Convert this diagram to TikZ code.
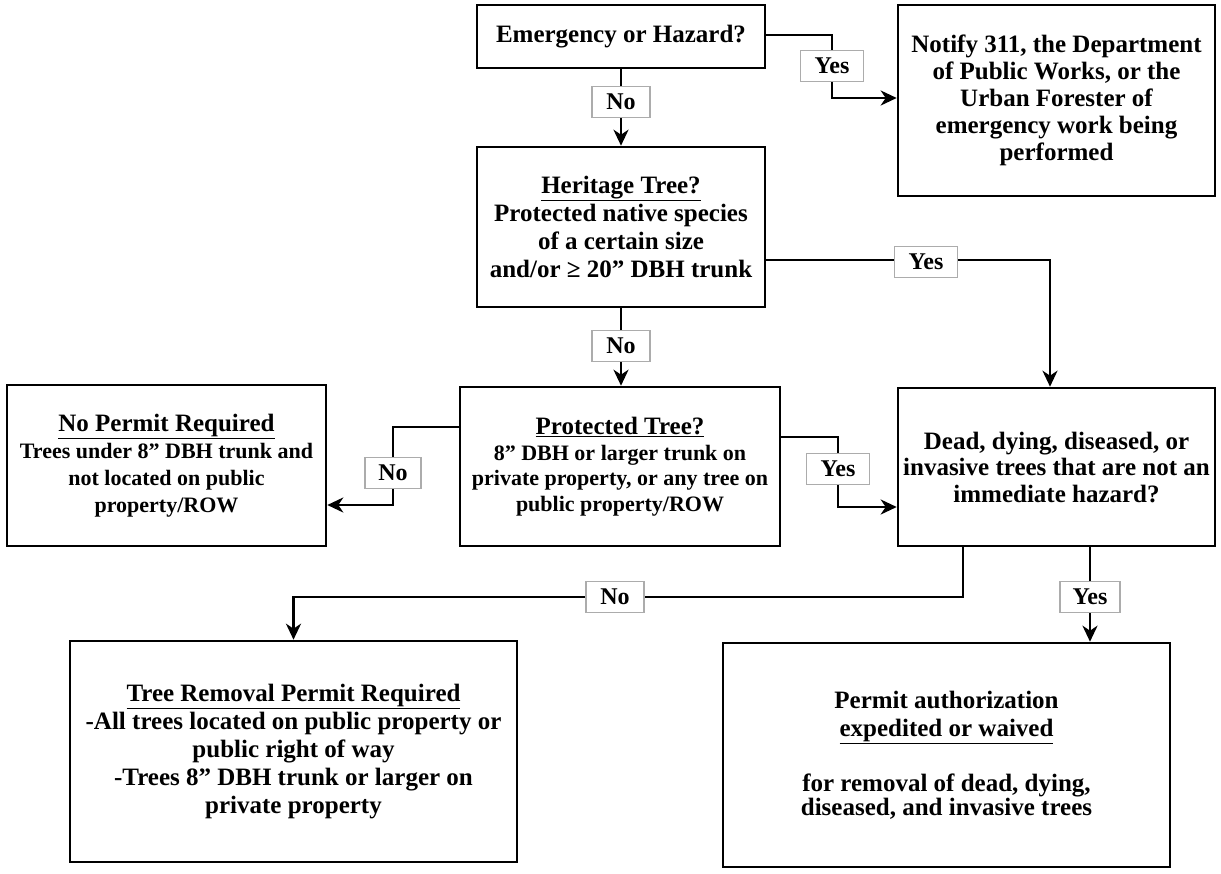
\documentclass[tikz,border=0pt]{standalone}
\usepackage{fontspec}
\setmainfont{Liberation Serif}
\usetikzlibrary{arrows.meta,backgrounds,calc}
\begin{document}
\begin{tikzpicture}[x=1pt,y=-1pt,
  box/.style={draw, line width=2.6pt, align=center, inner sep=0pt, font=\bfseries\fontsize{25}{27}\selectfont},
  lab/.style={draw=gray!65, line width=1.2pt, fill=white, inner sep=0pt, minimum height=31pt, font=\bfseries\fontsize{24}{26}\selectfont},
  arr/.style={line width=2.6pt, -{Stealth[length=16pt,width=15pt,inset=5pt]}}]
\useasboundingbox (0,0) rectangle (1221,873);

% boxes
\node[box, minimum width=288pt, minimum height=63pt] (em) at (621,36.5) {Emergency or Hazard?};
\node[box, minimum width=317pt, minimum height=191pt] (nt) at (1056.5,100.5)
  {Notify 311, the Department\\of Public Works, or the\\Urban Forester of\\emergency work being\\performed};
\node[box, minimum width=288pt, minimum height=160pt, font=\bfseries\fontsize{25}{28}\selectfont] (her) at (621,227)
  {\underline{Heritage Tree?}\\Protected native species\\of a certain size\\and/or ≥ 20'' DBH trunk};
\node[box, minimum width=319pt, minimum height=161pt, font=\bfseries\fontsize{22}{27}\selectfont] (nop) at (166.5,465.5)
  {{\fontsize{25}{27}\selectfont\underline{No Permit Required}}\\Trees under 8'' DBH trunk and\\not located on public\\property/ROW};
\node[box, minimum width=320pt, minimum height=159pt, font=\bfseries\fontsize{22}{25.5}\selectfont] (prot) at (620,466.5)
  {{\fontsize{25}{25.5}\selectfont\underline{Protected Tree?}}\\8'' DBH or larger trunk on\\private property, or any tree on\\public property/ROW};
\node[box, minimum width=317pt, minimum height=158pt, font=\bfseries\fontsize{25}{26.5}\selectfont] (dead) at (1056.5,467)
  {Dead, dying, diseased, or\\invasive trees that are not an\\immediate hazard?};
\node[box, minimum width=447pt, minimum height=221pt, font=\bfseries\fontsize{25}{28}\selectfont] (trp) at (293.5,751.5)
  {\underline{Tree Removal Permit Required}\\-All trees located on public property or\\public right of way\\-Trees 8'' DBH trunk or larger on\\private property};
\node[box, minimum width=447pt, minimum height=224pt, font=\bfseries\fontsize{25}{28}\selectfont] (pa) at (946.5,755)
  {Permit authorization\\\underline{expedited or waived}\\[27pt]for removal of dead, dying,\\[-4pt]diseased, and invasive trees};

% labels
\node[lab, minimum width=63pt] (y1) at (832,66) {Yes};
\node[lab, minimum width=58pt] (n1) at (621,102) {No};
\node[lab, minimum width=63pt] (y2) at (926,262) {Yes};
\node[lab, minimum width=58pt] (n2) at (621,346) {No};
\node[lab, minimum width=56pt] (n3) at (393,473) {No};
\node[lab, minimum width=63pt] (y3) at (838,469) {Yes};
\node[lab, minimum width=58pt] (n4) at (615,597) {No};
\node[lab, minimum width=60pt] (y4) at (1090,597) {Yes};

% connectors
\begin{scope}[on background layer]
\fill[white] (0,0) rectangle (1221,873);
\draw[arr] ([yshift=1.5pt]em.east) -| (y1.center) |- ([yshift=2.5pt]nt.west);
\draw[arr] (em.south) -- (her.north);
\draw[arr] ([yshift=-33pt]her.east) -| ([xshift=-6.5pt]dead.north);
\draw[arr] (her.south) -- (her.south |- prot.north);
\draw[arr] ([yshift=39.5pt]prot.west) -| (n3.center) |- ([yshift=-39.5pt]nop.east);
\draw[arr] ([yshift=29.5pt]prot.east) -| (y3.center) |- ([yshift=-40pt]dead.west);
\draw[arr] ([xshift=-93.5pt]dead.south) |- (n4.center) -| (trp.north);
\draw[arr] ([xshift=33.5pt]dead.south) -- ([xshift=143.5pt]pa.north);
\end{scope}
\end{tikzpicture}
\end{document}
